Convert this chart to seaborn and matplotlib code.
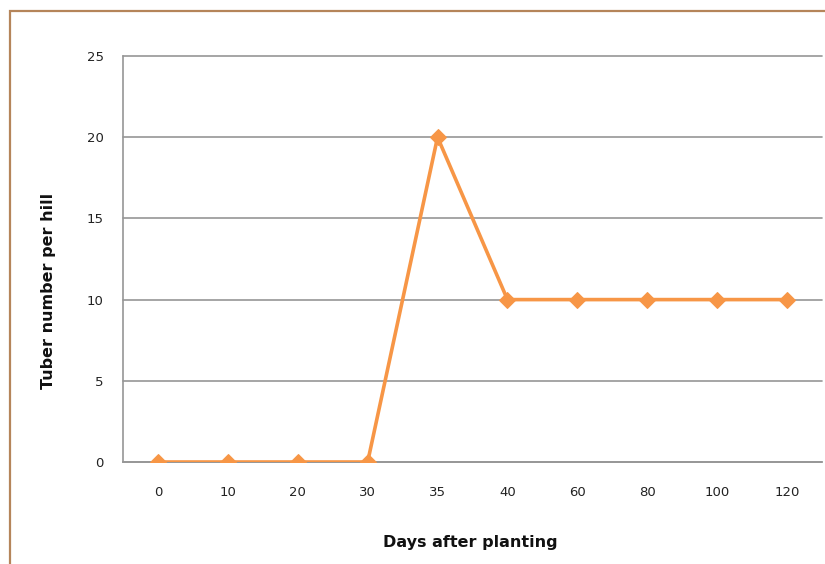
import matplotlib
matplotlib.use("Agg")
import matplotlib.pyplot as plt
from matplotlib.patches import Rectangle
import seaborn as sns
import pandas as pd

days = ["0", "10", "20", "30", "35", "40", "60", "80", "100", "120"]
tubers = [0, 0, 0, 0, 20, 10, 10, 10, 10, 10]
y_ticks = [0, 5, 10, 15, 20, 25]

df = pd.DataFrame({"days": days, "tubers": tubers})

sns.set_theme(style="white")
plt.rcParams["font.family"] = ["DejaVu Sans"]

fig = plt.figure(figsize=(8.25, 5.64), dpi=100)
ax = fig.add_axes([123 / 825, 1 - 462 / 564, (822 - 123) / 825, (462 - 56) / 564])

sns.lineplot(data=df, x="days", y="tubers", ax=ax, sort=False,
             color="#F79646", linewidth=2.6, marker="D", markersize=8,
             markeredgecolor="#F79646", zorder=3)

ax.set_xlim(-0.5, len(days) - 0.5)
ax.set_ylim(0, 25)
ax.set_yticks(y_ticks)
ax.set_yticklabels([str(v) for v in y_ticks])
ax.yaxis.grid(True, color="#969696", linewidth=1.2)
for gl in ax.get_ygridlines():
    gl.set_clip_on(False)
ax.set_axisbelow(True)

for side in ["top", "right"]:
    ax.spines[side].set_visible(False)
for side in ["left", "bottom"]:
    ax.spines[side].set_color("#969696")
    ax.spines[side].set_linewidth(1.2)

ax.tick_params(axis="both", length=0, labelsize=9.5, colors="#222222")
ax.tick_params(axis="y", pad=14)
ax.tick_params(axis="x", pad=17)

ax.set_xlabel("")
ax.set_ylabel("")
fig.text(470 / 825, 1 - 543 / 564, "Days after planting", fontsize=11.5,
         fontweight="bold", ha="center", va="center", color="#111111")
fig.text(49 / 825, 1 - 291 / 564, "Tuber number per hill", fontsize=11.5,
         fontweight="bold", ha="center", va="center", rotation=90, color="#111111")

# chart border
fig.patches.append(Rectangle((10 / 825, -0.5), 2.0, (564 - 11) / 564 + 0.5,
                             transform=fig.transFigure, fill=False,
                             edgecolor="#B5855A", linewidth=1.6, zorder=0))

fig.savefig("out.png", dpi=100)
